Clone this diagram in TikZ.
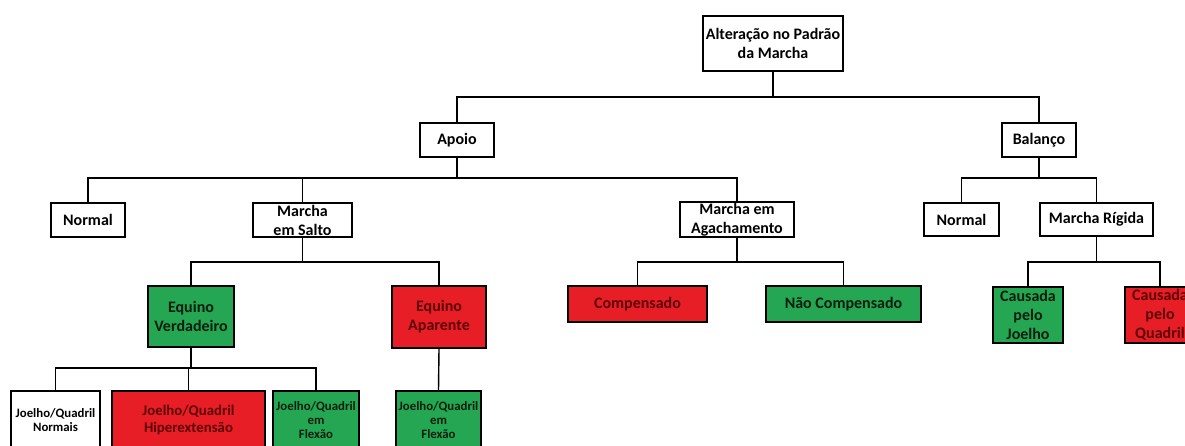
\documentclass[tikz,border=0pt]{standalone}
\usepackage{fontspec}
\setmainfont{Carlito}
\definecolor{boxgreen}{RGB}{36,166,82}
\definecolor{boxred}{RGB}{232,30,38}
\definecolor{redtext}{RGB}{92,4,6}
\definecolor{greentext}{RGB}{10,30,14}
\tikzset{
  box/.style={draw=black, line width=1.5pt, fill=white, inner sep=0pt, align=center,
    font=\fontsize{16}{19}\selectfont\bfseries, text=black},
  greenbox/.style={box, fill=boxgreen, text=greentext},
  redbox/.style={box, fill=boxred, text=redtext},
  smalltext/.style={font=\fontsize{12.8}{14}\selectfont\bfseries},
  sz/.style 2 args={minimum width=#1pt, minimum height=#2pt},
  link/.style={draw=black, line width=1.4pt}
}
\begin{document}
\begin{tikzpicture}[x=1pt, y=-1pt]
\clip (0,0) rectangle (1185,445);
\fill[white] (0,0) rectangle (1185,445);

% level 0
\node[box, sz={140}{55}] (root) at (773,43.5) {Altera\c{c}\~ao no Padr\~ao\\da Marcha};

% level 1
\node[box, sz={74}{34}] (apoio) at (457,140) {Apoio};
\node[box, sz={74}{34}] (balanco) at (1039,140) {Balan\c{c}o};

% level 2
\node[box, sz={74}{34}] (normalL) at (88,220) {Normal};
\node[box, sz={99}{34}] (salto) at (302.5,220) {Marcha\\em Salto};
\node[box, sz={114}{35}] (agach) at (737,219.5) {Marcha em\\Agachamento};
\node[box, sz={75}{33}] (normalR) at (961.5,219.5) {Normal};
\node[box, sz={113}{33}] (rigida) at (1096.5,219.5) {Marcha R\'igida};

% level 3
\node[greenbox, sz={86}{61}] (verd) at (191,316.5) {Equino\\Verdadeiro};
\node[redbox, sz={94}{62}] (apar) at (439,317) {Equino\\Aparente};
\node[redbox, sz={139}{36}] (comp) at (637.5,304) {Compensado};
\node[greenbox, sz={155}{36}] (naocomp) at (843.5,304) {N\~ao Compensado};
\node[greenbox, sz={70}{56}] (joelho) at (1028,315) {Causada\\pelo\\Joelho};
\node[redbox, sz={70}{56}] (quadril) at (1160,315) {Causada\\pelo\\Quadril};

% level 4
\node[box, smalltext, sz={89}{58}] (jqn) at (55.5,420) {Joelho/Quadril\\Normais};
\node[redbox, font=\fontsize{14.8}{17}\selectfont\bfseries, sz={153}{58}] (hiper) at (188.5,420) {Joelho/Quadril\\Hiperextens\~ao};
\node[greenbox, smalltext, sz={86}{58}] (flex1) at (316,420) {Joelho/Quadril\\em\\Flex\~ao};
\node[greenbox, smalltext, sz={85}{58}] (flex2) at (438.5,420) {Joelho/Quadril\\em\\Flex\~ao};

% connectors: parent down to a bus, then across and down to each child
\foreach \p/\y/\c in {root/97/apoio, root/97/balanco,
                      apoio/178/normalL, apoio/178/salto, apoio/178/agach,
                      balanco/178/normalR, balanco/178/rigida,
                      salto/262/verd, salto/262/apar,
                      agach/262/comp, agach/262/naocomp,
                      rigida/262/joelho, rigida/262/quadril,
                      verd/368/jqn, verd/368/hiper, verd/368/flex1}
  \draw[link] (\p.south) -- (\p.south |- 0,\y) -| (\c.north);
\draw[link] (apar.south) -- (flex2.north);
\end{tikzpicture}
\end{document}
